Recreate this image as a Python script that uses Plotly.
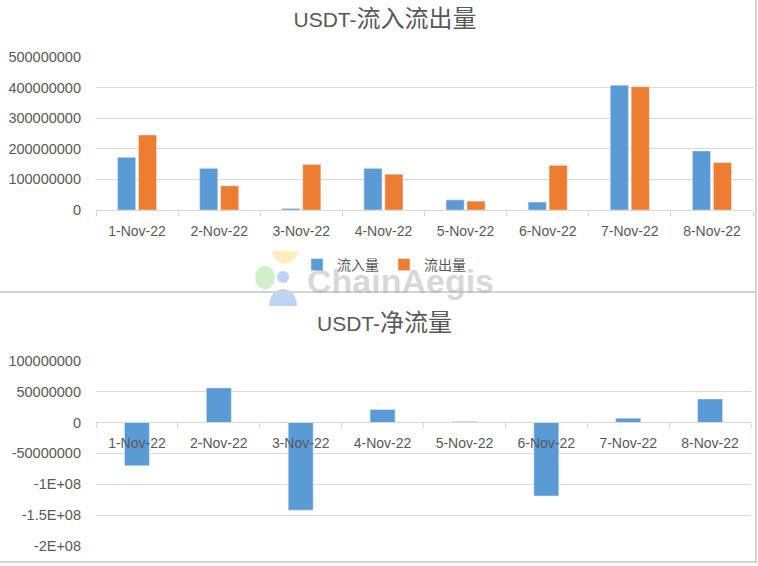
import plotly.graph_objects as go

W, H = 758, 566

DATES = ["1-Nov-22", "2-Nov-22", "3-Nov-22", "4-Nov-22",
         "5-Nov-22", "6-Nov-22", "7-Nov-22", "8-Nov-22"]
INFLOW = [172e6, 136e6, 5e6, 136e6, 33e6, 26e6, 408e6, 193e6]
OUTFLOW = [245e6, 79e6, 149e6, 117e6, 29e6, 146e6, 403e6, 155e6]
NETFLOW = [-70e6, 56e6, -142e6, 21e6, 1.5e6, -119e6, 7e6, 38e6]

TOP_TICKS = [0, 1e8, 2e8, 3e8, 4e8, 5e8]
TOP_TICKTEXT = ["0", "100000000", "200000000", "300000000", "400000000", "500000000"]
NET_TICKS = [-2e8, -1.5e8, -1e8, -5e7, 0, 5e7, 1e8]
NET_TICKTEXT = ["-2E+08", "-1.5E+08", "-1E+08", "-50000000", "0", "50000000", "100000000"]

BLUE = "#5B9BD5"
ORANGE = "#ED7D31"
GRID = "#D9D9D9"
TEXT = "#595959"
FONT = "Liberation Sans, Arial, Noto Sans CJK SC"


def fx(px):
    return px / W


def fy(py):
    return 1 - py / H


def title_html(latin, cjk):
    # 中文部分在原图里略大一些
    return f'{latin}<span style="font-size:24px">{cjk}</span>'


top_dom = [fy(210), fy(57)]
net_dom = [fy(546), fy(360.7)]
net_range = [-2e8, 1e8]
# 净流量图的x轴放在0刻度处
zero_pos = net_dom[0] + (0 - net_range[0]) / (net_range[1] - net_range[0]) * (net_dom[1] - net_dom[0])

fig = go.Figure()
fig.add_trace(go.Bar(x=DATES, y=INFLOW, name="流入量", marker_color=BLUE,
                     xaxis="x", yaxis="y"))
fig.add_trace(go.Bar(x=DATES, y=OUTFLOW, name="流出量", marker_color=ORANGE,
                     xaxis="x", yaxis="y"))
fig.add_trace(go.Bar(x=DATES, y=NETFLOW, name="净流量", marker_color=BLUE,
                     width=0.305, showlegend=False, xaxis="x2", yaxis="y2"))

xaxis_common = dict(
    type="category", showgrid=False, zeroline=False, automargin=False,
    showline=True, linecolor=GRID, linewidth=1,
    ticks="outside", tickson="boundaries", ticklen=5, tickcolor=GRID,
    tickfont=dict(size=14, color=TEXT), ticklabelstandoff=8,
    fixedrange=True,
)
yaxis_common = dict(
    showgrid=True, gridcolor=GRID, gridwidth=1, zeroline=False, showline=False,
    automargin=False,
    tickfont=dict(size=14.5, color=TEXT), ticklabelstandoff=14,
)

fig.update_layout(
    width=W, height=H,
    margin=dict(l=0, r=0, t=0, b=0, autoexpand=False),
    paper_bgcolor="white", plot_bgcolor="white",
    font=dict(family=FONT, color=TEXT),
    barmode="group", bargap=0.49, bargroupgap=0.135,
    title=dict(text=title_html("USDT-", "流入流出量"), x=fx(385), xanchor="center",
               y=fy(20), yanchor="middle", font=dict(size=21, color=TEXT)),
    xaxis=dict(domain=[fx(96), fx(753)], anchor="y", **xaxis_common),
    yaxis=dict(domain=top_dom, range=[0, 5e8], tickvals=TOP_TICKS,
               ticktext=TOP_TICKTEXT, anchor="x", **yaxis_common),
    xaxis2=dict(domain=[fx(96), fx(751)], anchor="free", position=zero_pos,
                **xaxis_common),
    yaxis2=dict(domain=net_dom, range=net_range, tickvals=NET_TICKS,
                ticktext=NET_TICKTEXT, anchor="x2", **yaxis_common),
    legend=dict(orientation="h", x=fx(384), xanchor="center", y=fy(265),
                yanchor="middle", font=dict(size=14, color=TEXT),
                bgcolor="rgba(0,0,0,0)", itemwidth=30),
    showlegend=True,
)

fig.add_annotation(text=title_html("USDT-", "净流量"), xref="paper", yref="paper",
                   x=fx(384), y=fy(323), xanchor="center", yanchor="middle",
                   showarrow=False, font=dict(size=21, color=TEXT))

# ChainAegis 水印
fig.add_annotation(text="<b>ChainAegis</b>", xref="paper", yref="paper",
                   x=fx(400), y=fy(281), xanchor="center", yanchor="middle",
                   showarrow=False,
                   font=dict(size=34, color="rgba(160,160,160,0.42)",
                             family="Liberation Sans, Arial"))
logo = [
    ("path", "M 272 251 L 298 251 Q 296 262 285 264 Q 274 262 272 251 Z", "rgba(255,215,120,0.45)"),
    ("circle", (255, 266, 275, 289), "rgba(150,220,140,0.45)"),
    ("circle", (277, 271, 289, 283), "rgba(120,170,230,0.5)"),
    ("path", "M 269 306 Q 270 290 283 289 Q 296 290 297 306 Z", "rgba(120,170,230,0.5)"),
]
for kind, geo, col in logo:
    if kind == "circle":
        x0, y0, x1, y1 = geo
        fig.add_shape(type="circle", xref="paper", yref="paper",
                      x0=fx(x0), x1=fx(x1), y0=fy(y0), y1=fy(y1),
                      fillcolor=col, line_width=0, layer="above")
    else:
        # 把像素路径转成 paper 坐标
        parts = geo.split()
        out = []
        i = 0
        while i < len(parts):
            p = parts[i]
            if p.isalpha():
                out.append(p)
                i += 1
            else:
                out.append(f"{fx(float(parts[i])):.5f},{fy(float(parts[i + 1])):.5f}")
                i += 2
        fig.add_shape(type="path", xref="paper", yref="paper",
                      path=" ".join(out), fillcolor=col, line_width=0, layer="above")

# 图表边框（右侧竖线 + 两条横线）
border = dict(color="#D4D4D4", width=2)
fig.add_shape(type="line", xref="paper", yref="paper",
              x0=fx(756), x1=fx(756), y0=fy(0), y1=fy(563), line=border)
for yy in (292, 562):
    fig.add_shape(type="line", xref="paper", yref="paper",
                  x0=0, x1=fx(756), y0=fy(yy), y1=fy(yy), line=border)

# 去掉页面默认的 8px 边距，使图与窗口对齐；隐藏工具栏
fig.write_html("out.html", config={"displayModeBar": False},
               post_script="document.body.style.margin='0';")
